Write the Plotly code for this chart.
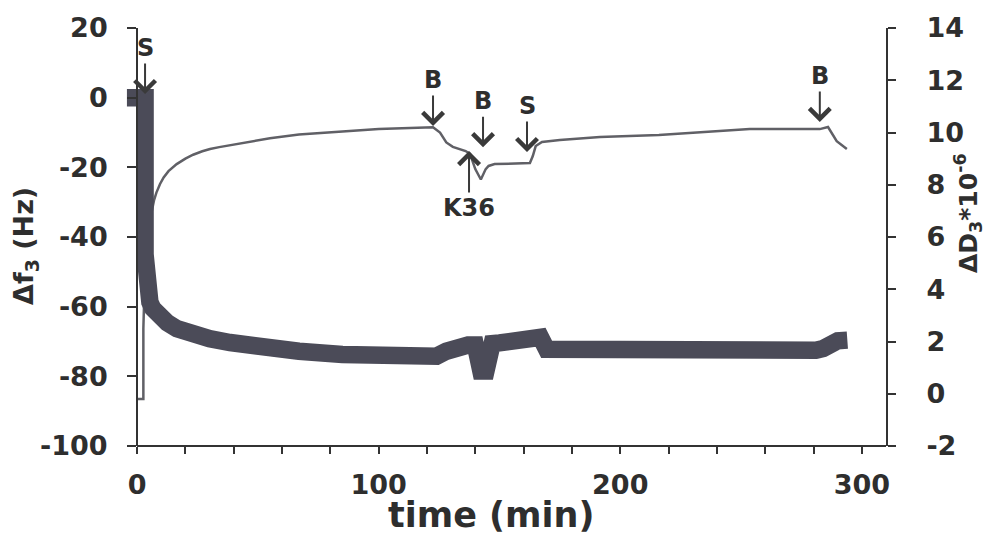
import plotly.graph_objects as go

# ---- data ----
# frequency shift (thick trace, left axis)
time_f = [-4.2, 3.3, 3.3, 3.6, 4.3, 5.3, 6.5, 8, 10, 12.5, 16.5, 22, 30, 38.5, 50, 67, 85,
          100, 115, 124, 128, 132, 137, 140, 142.3, 144.4, 147, 150, 155, 161, 165.5, 167,
          169.5, 180, 200, 230, 260, 281, 284, 287, 290, 294]
delta_f = [0, 0, -45, -52, -56, -58.7, -60.5, -61.9, -63.2, -64.6, -66.3, -67.8, -69.2, -70.3,
           -71.5, -72.8, -73.7, -74.1, -74.3, -74.2, -72.8, -71.4, -71.0, -71.0, -78.5, -78.5,
           -70.6, -70.4, -70.0, -69.6, -68.8, -68.8, -72.2, -72.3, -72.4, -72.5, -72.5, -72.5,
           -72.0, -70.5, -69.8, -69.6]

# dissipation shift (thin trace, right axis), units of 1e-6
time_d = [0, 2.6, 2.6, 3.2, 4.2, 5.2, 6.1, 7, 8, 9.5, 11, 13, 16.4, 20, 23.2, 27, 30.2, 34,
          38.5, 45, 55, 67, 78, 88, 100, 110, 122.5, 125.4, 128, 130.7, 133.6, 136, 137.8,
          140, 142.3, 144.3, 145.5, 148, 162.6, 163.8, 165, 167.6, 175, 191.6, 216, 233,
          253.6, 270, 282.6, 286, 289.6, 293.8]
delta_d = [-0.2, -0.2, 2.5, 4.5, 5.8, 6.5, 7.0, 7.4, 7.7, 8.03, 8.28, 8.52, 8.79, 9.0, 9.15,
           9.28, 9.37, 9.44, 9.51, 9.62, 9.78, 9.92, 10.0, 10.06, 10.13, 10.17, 10.2, 10.0,
           9.62, 9.45, 9.37, 9.29, 9.18, 8.6, 8.2, 8.6, 8.72, 8.79, 8.83, 9.10, 9.48, 9.64,
           9.71, 9.83, 9.9, 10.0, 10.13, 10.13, 10.13, 10.21, 9.67, 9.37]

# event markers: label, time, D value at arrow tip, label below (pointing up)?
event_labels = ["S", "B", "K36", "B", "S", "B"]
event_times = [3.3, 122.5, 137.4, 143.2, 161.4, 282.6]
event_tips = [11.47, 10.25, 9.29, 9.44, 9.25, 10.4]
event_below = [False, False, True, False, False, False]

# axis ticks
x_major = [0, 100, 200, 300]
f_ticks = [-100, -80, -60, -40, -20, 0, 20]
d_ticks = [-2, 0, 2, 4, 6, 8, 10, 12, 14]

FONT = "DejaVu Sans"
INK = "#2e2e2e"
AX = "#333333"

fig = go.Figure()
fig.add_trace(go.Scatter(x=time_d, y=delta_d, mode="lines", yaxis="y",
                         line=dict(color="#606066", width=2.5), hoverinfo="skip"))
fig.add_trace(go.Scatter(x=time_f, y=delta_f, mode="lines", yaxis="y2",
                         line=dict(color="#4b4b58", width=17.5), hoverinfo="skip"))

L, R, T, B = 125, 100, 28, 95
W, H = 986, 541
pw = W - L - R
ph = H - T - B
xlo, xhi = -5, 310
pos0 = (0 - xlo) / (xhi - xlo)

tickfont = dict(family=FONT, size=27, color=INK, weight="bold")

fig.update_layout(
    width=W, height=H, margin=dict(l=L, r=R, t=T, b=B),
    paper_bgcolor="white", plot_bgcolor="white", showlegend=False,
    xaxis=dict(range=[xlo, xhi], tickmode="array", tickvals=x_major,
               ticktext=[str(v) for v in x_major],
               ticks="outside", ticklen=7, tickwidth=2, tickcolor=AX,
               showline=False, showgrid=False, zeroline=False,
               tickfont=tickfont, ticklabelstandoff=8,
               minor=dict(tick0=0, dtick=20, ticks="outside", ticklen=7,
                          tickwidth=2, tickcolor=AX, showgrid=False)),
    yaxis=dict(range=[-2, 14], tickmode="array", tickvals=d_ticks,
               ticktext=[str(v) for v in d_ticks], side="right", anchor="x",
               ticks="outside", ticklen=8, tickwidth=2, tickcolor=AX,
               showline=True, linecolor=AX, linewidth=2, showgrid=False,
               zeroline=False, tickfont=tickfont, ticklabelstandoff=25),
    yaxis2=dict(range=[-100, 20], tickmode="array", tickvals=f_ticks,
                ticktext=[str(v) for v in f_ticks], overlaying="y", side="left",
                anchor="free", position=pos0,
                ticks="outside", ticklen=9, tickwidth=2, tickcolor=AX,
                showline=True, linecolor=AX, linewidth=2, showgrid=False,
                zeroline=False, tickfont=tickfont, ticklabelstandoff=14),
)

# bottom axis line starting at t=0
fig.add_shape(type="line", xref="x", yref="paper", x0=0, x1=xhi, y0=0, y1=0,
              line=dict(color=AX, width=2))

ann_font = dict(family=FONT, size=24, color=INK, weight="bold")
for lab, t, d, below in zip(event_labels, event_times, event_tips, event_below):
    fig.add_annotation(x=t, y=d, xref="x", yref="y", text=lab, showarrow=True,
                       ax=0, ay=(57 if below else -46), arrowhead=4, arrowsize=2,
                       arrowwidth=2, arrowcolor="#3a3a3a", font=ann_font)

title_font = dict(family=FONT, size=27, color=INK, weight="bold")
fig.add_annotation(text="time (min)", xref="paper", yref="paper",
                   x=(491 - L) / pw, y=(H - B - 515) / ph, showarrow=False,
                   xanchor="center", yanchor="middle",
                   font=dict(family=FONT, size=35, color=INK, weight="bold"))
fig.add_annotation(text="Δf<sub>3</sub> (Hz)", xref="paper", yref="paper",
                   x=(26 - L) / pw, y=(H - B - 246) / ph, showarrow=False,
                   textangle=-90, xanchor="center", yanchor="middle", font=title_font)
fig.add_annotation(text="ΔD<sub>3</sub>*10<sup>-6</sup>", xref="paper", yref="paper",
                   x=(968 - L) / pw, y=(H - B - 213) / ph, showarrow=False,
                   textangle=-90, xanchor="center", yanchor="middle",
                   font=dict(family=FONT, size=25, color=INK, weight="bold"))

fig.write_html("out.html")
